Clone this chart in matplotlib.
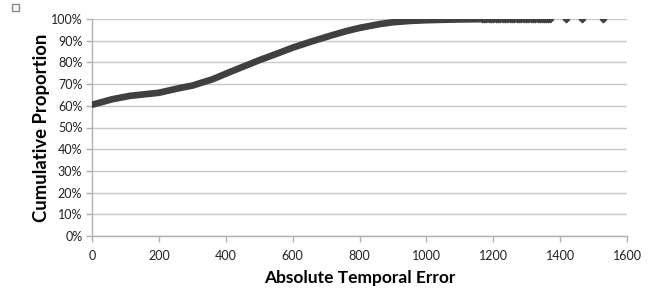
import matplotlib
matplotlib.use("Agg")
import matplotlib.pyplot as plt
from matplotlib.patches import Rectangle
from matplotlib.ticker import PercentFormatter

# Dense part of the cumulative curve
error_dense = [0, 20, 60, 114, 200, 263, 300, 360, 413, 500, 563, 600, 660, 713,
               760, 800, 862, 900, 950, 1000, 1050, 1100, 1160]
prop_dense = [60.5, 61.3, 63.0, 64.6, 66.0, 68.2, 69.3, 72.2, 75.6, 81.0, 84.6, 86.8,
              89.8, 92.3, 94.4, 95.9, 97.7, 98.5, 99.1, 99.45, 99.65, 99.8, 99.9]
# Tail of individual points
error_tail = [1165, 1172, 1179, 1186, 1193, 1200, 1207, 1214, 1221, 1228, 1235, 1242,
              1249, 1256, 1263, 1270, 1277, 1284, 1291, 1298, 1305, 1312, 1319, 1326,
              1333, 1340, 1346, 1352, 1358, 1364, 1371, 1418, 1464, 1529]
prop_tail = [99.9, 99.9, 99.9, 99.9, 99.91, 99.91, 99.91, 99.92, 99.92, 99.92, 99.93, 99.93,
             99.93, 99.94, 99.94, 99.94, 99.95, 99.95, 99.95, 99.96, 99.96, 99.96, 99.97, 99.97,
             99.97, 99.97, 99.98, 99.98, 99.98, 99.98, 99.98, 99.99, 99.99, 100.0]

x_ticks = [0, 200, 400, 600, 800, 1000, 1200, 1400, 1600]
y_ticks = [0, 10, 20, 30, 40, 50, 60, 70, 80, 90, 100]

plt.rcParams['font.family'] = ['Lato', 'DejaVu Sans']

fig = plt.figure(figsize=(6.52, 2.89), dpi=100)
ax = fig.add_axes([92/652, 1-236/289, 535/652, 217/289])

color = '#404040'
ax.plot(error_dense, prop_dense, color=color, linewidth=4.8, solid_capstyle='round',
        solid_joinstyle='round', zorder=3)
ax.plot(error_tail, prop_tail, linestyle='none', marker='D', markersize=3.3,
        color=color, zorder=3)

ax.set_xlim(0, 1600)
ax.set_ylim(0, 100)
ax.set_xticks(x_ticks)
ax.set_yticks(y_ticks)
ax.yaxis.set_major_formatter(PercentFormatter(decimals=0))
ax.grid(axis='y', color='#c8c8c8', linewidth=1)
ax.set_axisbelow(True)
for s in ['top', 'right']:
    ax.spines[s].set_visible(False)
for s in ['left', 'bottom']:
    ax.spines[s].set_color('#b0b0b0')
    ax.spines[s].set_linewidth(1)
ax.tick_params(axis='both', colors='#b0b0b0', labelcolor='#222222', labelsize=9,
               length=4, width=1)
ax.tick_params(axis='x', pad=6)
ax.tick_params(axis='y', pad=3)

ax.set_xlabel('Absolute Temporal Error', fontsize=12.5, fontweight='bold', labelpad=6)
ax.set_ylabel('Cumulative Proportion', fontsize=13.3, fontweight='bold', labelpad=0.5)

fig.patches.append(Rectangle((12/652, 1-11/289), 7/652, 7/289, transform=fig.transFigure,
                             fill=False, edgecolor='#8a8a8a', linewidth=1))

fig.savefig('out.png', dpi=100)
